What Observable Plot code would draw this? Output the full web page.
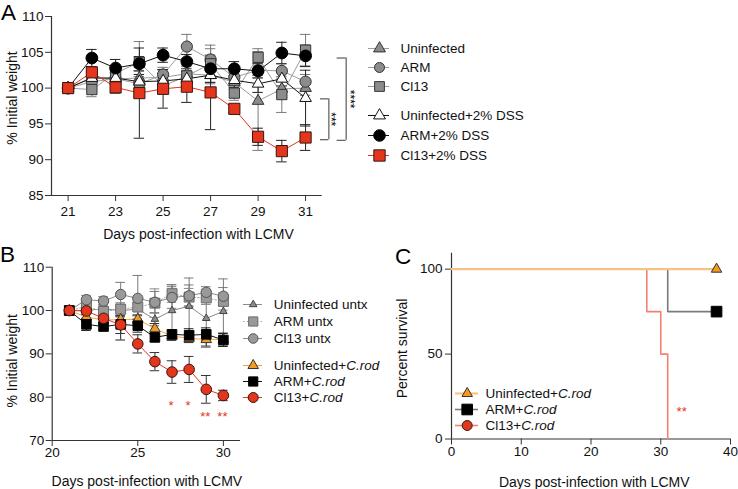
<!DOCTYPE html>
<html><head><meta charset="utf-8">
<script src="https://cdn.jsdelivr.net/npm/d3@7"></script>
<script src="https://cdn.jsdelivr.net/npm/@observablehq/plot@0.6"></script>
<style>
body{margin:0;background:#fff;}
#wrap{position:relative;width:738px;height:489px;overflow:hidden;font-family:"Liberation Sans",Arial,sans-serif;background:#fff;}
.letter{position:absolute;font-size:22.5px;line-height:1.117;color:#000;}
</style></head>
<body><div id="wrap"></div>
<script>
// ---------------- Panel A data ----------------
const daysA = [21,22,23,24,25,26,27,28,29,30,31];
const aUninf    = [100,101.5,101.3,101.4,101.5,102.0,101.8,100.8,98.2,99.9,100.0];
const aArm      = [100,100.9,101.3,100.6,101.9,105.8,104.0,101.5,102.5,102.4,100.9];
const aCl13     = [100,99.8,102.1,103.6,100.3,101.7,103.4,99.3,104.3,99.1,105.3];
const aUninfDss = [100,101.4,101.4,100.9,101.0,101.3,101.8,101.1,100.6,101.3,98.6];
const aArmDss   = [100,104.2,102.8,103.4,104.6,103.7,102.7,102.7,102.4,104.9,104.5];
const aCl13Dss  = [100,102.2,100.1,99.3,99.9,100.2,99.4,97.1,93.2,91.2,93.1];
const aUninfErr    = [0,0.8,0.8,1.0,1.0,1.0,1.2,1.0,6.9,1.2,1.0];
const aArmErr      = [0,0.8,0.8,1.0,1.0,1.7,1.5,1.0,1.0,1.0,1.0];
const aCl13Err     = [0,1.0,1.0,2.9,1.0,1.5,2.6,1.0,1.2,2.5,2.2];
const aUninfDssErr = [0,0.8,0.8,1.0,1.0,1.0,1.0,1.0,1.2,1.0,3.9];
const aArmDssErr   = [0,1.2,1.2,1.0,1.0,1.0,1.0,1.0,1.0,1.5,1.5];
const aCl13DssErr  = [0,0.8,0.8,6.3,2.7,2.2,5.2,0.6,1.2,1.5,1.8];
const namesA = ["Uninfected","ARM","Cl13","Uninfected+2% DSS","ARM+2% DSS","Cl13+2% DSS"];
const xTicksA = [21,23,25,27,29,31];
const yTicksA = [85,90,95,100,105,110];
const bracketLabels = ["***","****"];
const bracketTop = [98.5,104.2];
const bracketBottom = [92.8,92.7];
const bracketX = [31.98,32.71];
const bracketArmX = [31.63,32.33];
const bracketTextX = [32.19,33.0];

// ---------------- Panel B data ----------------
const daysB = [21,22,23,24,25,26,27,28,29,30];
const bUninf   = [100,100.0,100.4,100.0,100.3,98.0,100.0,101.0,98.2,99.8];
const bArm     = [100,100.9,99.8,100.3,100.8,101.7,103.9,103.1,102.9,102.1];
const bCl13    = [100,102.5,102.2,103.7,102.8,101.9,103.0,103.4,104.2,103.3];
const bUninfCr = [100,98.5,97.8,97.9,98.0,95.8,94.1,93.6,93.3,93.3];
const bArmCr   = [100,96.8,96.3,96.8,96.5,93.8,94.5,94.3,94.5,93.2];
const bCl13Cr  = [100,99.9,98.2,96.7,92.3,88.2,85.8,86.4,81.8,80.4];
const bUninfErr   = [0,1.0,1.0,1.5,1.5,1.5,6.0,6.5,6.7,7.5];
const bArmErr     = [0,1.0,1.0,1.5,2.0,3.3,2.0,2.0,1.5,2.0];
const bCl13Err    = [0,1.0,1.0,2.8,5.3,2.5,2.5,2.5,1.3,2.0];
const bUninfCrErr = [0,1.0,1.0,1.0,1.0,1.2,1.0,1.0,1.5,1.5];
const bArmCrErr   = [0,1.4,0.8,3.6,1.5,1.0,1.0,1.5,1.5,1.5];
const bCl13CrErr  = [0,0.8,1.0,2.0,2.1,2.1,2.6,3.0,3.2,1.2];
const namesB = ["Uninfected untx","ARM untx","Cl13 untx","Uninfected+C.rod","ARM+C.rod","Cl13+C.rod"];
const xTicksB = [20,25,30];
const yTicksB = [70,80,90,100,110];
const sigDaysB = [27,28,29,30];
const sigLabelsB = ["*","*","**","**"];
const sigYB = [77.9,77.9,75.5,75.5];

// ---------------- Panel C data ----------------
const survUninfT = [0,38],        survUninf = [100,100];
const survArmT   = [0,31,38],     survArm   = [100,75,75];
const survCl13T  = [0,28,30,31],  survCl13  = [100,75,50,0];
const namesC = ["Uninfected+C.rod","ARM+C.rod","Cl13+C.rod"];
const xTicksC = [0,10,20,30,40];
const yTicksC = [0,50,100];
const sigTC = [33], sigSC = [15.8], sigLabelC = ["**"];

// ---------------- styles ----------------
const FONT = '"Liberation Sans", Arial, Helvetica, sans-serif';
const GRAY = "#8c8c8c", RED = "#e3361d", ORANGE = "#f39a21", AX = "#333";
const wrap = document.getElementById("wrap");
function place(el, left, top) {
  el.style.position = "absolute"; el.style.left = left + "px"; el.style.top = top + "px";
  el.style.maxWidth = "none"; wrap.appendChild(el); return el;
}
function italicize(svg) {
  svg.querySelectorAll("text").forEach(t => {
    const s = t.textContent;
    if (t.children.length === 0 && s.includes("C.rod")) {
      const i = s.indexOf("C.rod");
      t.textContent = "";
      t.appendChild(document.createTextNode(s.slice(0, i)));
      const ts = document.createElementNS("http://www.w3.org/2000/svg", "tspan");
      ts.setAttribute("font-style", "italic");
      ts.textContent = "C.rod";
      t.appendChild(ts);
      if (s.length > i + 5) t.appendChild(document.createTextNode(s.slice(i + 5)));
    }
  });
  return svg;
}
const baseStyle = {fontFamily: FONT, fontSize: "13.5px", color: "#111", background: "none", overflow: "visible"};
const rowsOf = (days, vals, errs) => days.map((d, i) => ({day: d, v: vals[i], e: errs[i]}));

function lineMarks(s, cap) {
  const rows = rowsOf(s.days, s.values, s.errs);
  const er = rows.filter(d => d.e > 0);
  return [
    Plot.ruleX(er, {x: "day", y1: d => d.v - d.e, y2: d => d.v + d.e, stroke: s.err, strokeWidth: 1}),
    Plot.ruleY(er, {y: d => d.v + d.e, x1: d => d.day - cap, x2: d => d.day + cap, stroke: s.err, strokeWidth: 1}),
    Plot.ruleY(er, {y: d => d.v - d.e, x1: d => d.day - cap, x2: d => d.day + cap, stroke: s.err, strokeWidth: 1}),
    Plot.line(rows, {x: "day", y: "v", stroke: s.line, strokeWidth: s.lw || 1, strokeDasharray: s.dash})
  ];
}
function dotMarks(s) {
  const rows = rowsOf(s.days, s.values, s.errs);
  return Plot.dot(rows, {x: "day", y: "v", symbol: s.symbol, r: s.r, fill: s.fill, stroke: s.stroke, strokeWidth: 1});
}
function legendPlot(entries, o) {
  const pad = 12, n = entries.length;
  const height = (n - 1) * o.step + 2 * pad;
  const svg = Plot.plot({
    width: o.width, height, margin: 0,
    x: {domain: [0, o.width], range: [0, o.width], axis: null},
    y: {type: "point", domain: entries.map(e => e.name), range: [pad, height - pad], padding: 0, axis: null},
    style: baseStyle,
    marks: [
      ...entries.map(e => Plot.ruleY([e], {y: "name", x1: o.lineX1, x2: o.lineX2, stroke: e.line, strokeWidth: e.lw || 1, strokeDasharray: e.dash})),
      ...entries.map(e => Plot.dot([e], {x: o.markX, y: "name", symbol: e.symbol, r: e.lr || e.r, fill: e.fill, stroke: e.stroke, strokeWidth: 1})),
      Plot.text(entries, {x: o.textX, y: "name", text: "name", textAnchor: "start", fontSize: 13.5, fill: "#111"})
    ]
  });
  italicize(svg);
  place(svg, o.left, o.firstY - pad);
}

// ---------------- Panel A ----------------
const seriesA = [
  {name: namesA[0], values: aUninf, errs: aUninfErr, symbol: "triangle", r: 4.3, lr: 4.4, fill: GRAY, stroke: "#333", line: "#9d9d9d", err: "#7a7a7a"},
  {name: namesA[1], values: aArm, errs: aArmErr, symbol: "circle", r: 5.6, lr: 5, fill: GRAY, stroke: "#333", line: "#9d9d9d", err: "#7a7a7a"},
  {name: namesA[2], values: aCl13, errs: aCl13Err, symbol: "square", r: 5.8, lr: 5.5, fill: GRAY, stroke: "#333", line: "#9d9d9d", err: "#7a7a7a"},
  {name: namesA[3], values: aUninfDss, errs: aUninfDssErr, symbol: "triangle", r: 4.3, lr: 4.4, fill: "#fff", stroke: "#111", line: "#111", err: "#222"},
  {name: namesA[4], values: aArmDss, errs: aArmDssErr, symbol: "circle", r: 5.9, lr: 5.8, fill: "#000", stroke: "#000", line: "#111", err: "#222"},
  {name: namesA[5], values: aCl13Dss, errs: aCl13DssErr, symbol: "square", r: 6.3, lr: 6.4, fill: RED, stroke: "#3a1510", line: RED, err: "#222"}
].map(s => ({...s, days: daysA}));

const brackets = bracketLabels.map((l, i) => ({label: l, top: bracketTop[i], bottom: bracketBottom[i], x: bracketX[i], arm: bracketArmX[i], tx: bracketTextX[i]}));

const plotA = Plot.plot({
  width: 370, height: 245,
  marginLeft: 51, marginRight: 48.3, marginTop: 16, marginBottom: 50,
  x: {domain: [20.3, 31.7]},
  y: {domain: [85, 110]},
  style: baseStyle,
  marks: [
    Plot.ruleX([20.3], {stroke: AX, strokeWidth: 1.2}),
    Plot.ruleY([85], {stroke: AX, strokeWidth: 1.2}),
    Plot.axisX({ticks: xTicksA, tickSize: 6, tickPadding: 5, label: null, tickFormat: d => String(d), fontSize: 13.5, stroke: AX}),
    Plot.axisY({ticks: yTicksA, tickSize: 6, tickPadding: 2, label: null, tickFormat: d => String(d), fontSize: 13.5, stroke: AX}),
    ...seriesA.flatMap(s => lineMarks(s, 0.22)),
    ...seriesA.map(s => dotMarks(s)),
    Plot.ruleX(brackets, {x: "x", y1: "top", y2: "bottom", stroke: "#666", strokeWidth: 1.3}),
    Plot.ruleY(brackets, {y: "top", x1: "arm", x2: "x", stroke: "#666", strokeWidth: 1.3}),
    Plot.ruleY(brackets, {y: "bottom", x1: "arm", x2: "x", stroke: "#666", strokeWidth: 1.3}),
    Plot.text(brackets, {x: "tx", y: d => (d.top + d.bottom) / 2, text: "label", rotate: 90, textAnchor: "middle", fontSize: 12, dx: -3, fill: "#000"}),
    Plot.text(["Days post-infection with LCMV"], {text: d => d, frameAnchor: "bottom", textAnchor: "middle", lineAnchor: "bottom", dy: 43.3, dx: 11.6, fontSize: 14, fill: "#111"}),
    Plot.text(["% Initial weight"], {text: d => d, frameAnchor: "left", textAnchor: "middle", rotate: -90, dx: -38.5, dy: -8, fontSize: 14, fill: "#111"})
  ]
});
place(plotA, 0, 0);
legendPlot(seriesA.slice(0, 3), {left: 360, firstY: 47.7, step: 19.2, width: 220, lineX1: 8, lineX2: 29, markX: 19, textX: 40});
legendPlot(seriesA.slice(3), {left: 360, firstY: 113.7, step: 20.8, width: 220, lineX1: 8, lineX2: 29, markX: 19, textX: 40});

// ---------------- Panel B ----------------
const seriesB = [
  {name: namesB[0], values: bUninf, errs: bUninfErr, symbol: "triangle", r: 2.8, lr: 2.8, fill: GRAY, stroke: "#444", line: "#8a8a8a", err: "#7a7a7a"},
  {name: namesB[1], values: bArm, errs: bArmErr, symbol: "square", r: 5.6, lr: 5.2, fill: "#999", stroke: "#6a6a6a", line: "#aaa", dash: "1.5,2", err: "#8a8a8a"},
  {name: namesB[2], values: bCl13, errs: bCl13Err, symbol: "circle", r: 5.2, lr: 4.8, fill: "#999", stroke: "#555", line: "#8a8a8a", err: "#7a7a7a"},
  {name: namesB[3], values: bUninfCr, errs: bUninfCrErr, symbol: "triangle", r: 3.9, lr: 3.9, fill: ORANGE, stroke: "#333", line: "#f5a43a", err: "#333"},
  {name: namesB[4], values: bArmCr, errs: bArmCrErr, symbol: "square", r: 5.4, lr: 5.2, fill: "#000", stroke: "#000", line: "#111", err: "#222"},
  {name: namesB[5], values: bCl13Cr, errs: bCl13CrErr, symbol: "circle", r: 5.3, lr: 5, fill: RED, stroke: "#3a1510", line: RED, err: "#333"}
].map(s => ({...s, days: daysB}));
const sigB = sigDaysB.map((d, i) => ({day: d, y: sigYB[i], label: sigLabelsB[i]}));

const plotB = Plot.plot({
  width: 370, height: 249,
  marginLeft: 51.7, marginRight: 130, marginTop: 26.7, marginBottom: 49,
  x: {domain: [20, 31]},
  y: {domain: [70, 110]},
  style: baseStyle,
  marks: [
    Plot.ruleX([20], {stroke: AX, strokeWidth: 1.2}),
    Plot.ruleY([70], {stroke: AX, strokeWidth: 1.2}),
    Plot.axisX({ticks: xTicksB, tickSize: 6, tickPadding: 1, label: null, tickFormat: d => String(d), fontSize: 13.5, stroke: AX}),
    Plot.axisY({ticks: yTicksB, tickSize: 6, tickPadding: 2, label: null, tickFormat: d => String(d), fontSize: 13.5, stroke: AX}),
    ...seriesB.flatMap(s => lineMarks(s, 0.28)),
    ...seriesB.map(s => dotMarks(s)),
    Plot.text(sigB, {x: "day", y: "y", text: "label", fill: RED, fontSize: 13, dx: -1}),
    Plot.text(["Days post-infection with LCMV"], {text: d => d, frameAnchor: "bottom", textAnchor: "middle", lineAnchor: "bottom", dy: 45, dx: 0.5, fontSize: 14, fill: "#111"}),
    Plot.text(["% Initial weight"], {text: d => d, frameAnchor: "left", textAnchor: "middle", rotate: -90, dx: -39.5, dy: 7, fontSize: 14, fill: "#111"})
  ]
});
place(plotB, 0, 240);
legendPlot(seriesB.slice(0, 3), {left: 230, firstY: 304, step: 17.2, width: 200, lineX1: 13, lineX2: 32, markX: 22.7, textX: 43.3});
legendPlot(seriesB.slice(3), {left: 230, firstY: 365, step: 16.2, width: 200, lineX1: 13, lineX2: 32, markX: 22.7, textX: 43.3});

// ---------------- Panel C ----------------
const survRows = (T, S) => T.map((t, i) => ({t, s: S[i]}));
const seriesC = [
  {name: namesC[0], T: survUninfT, S: survUninf, symbol: "triangle", r: 3.9, fill: ORANGE, stroke: "#333", line: "#f7c383", lw: 2.2, endMark: true},
  {name: namesC[1], T: survArmT, S: survArm, symbol: "square", r: 6, fill: "#000", stroke: "#000", line: "#7a7a7a", lw: 1.6, endMark: true},
  {name: namesC[2], T: survCl13T, S: survCl13, symbol: "circle", r: 5, fill: RED, stroke: "#3a1510", line: "#f2826f", lw: 1.6, endMark: false}
];
const sigC = sigTC.map((t, i) => ({t, s: sigSC[i], label: sigLabelC[i]}));
const plotC = Plot.plot({
  width: 368, height: 249,
  marginLeft: 81, marginRight: 8, marginTop: 12.7, marginBottom: 50.5,
  x: {domain: [0, 40]},
  y: {domain: [0, 109.4]},
  style: baseStyle,
  marks: [
    Plot.ruleX([0], {stroke: AX, strokeWidth: 1.2}),
    Plot.ruleY([0], {stroke: AX, strokeWidth: 1.2}),
    Plot.axisX({ticks: xTicksC, tickSize: 6, tickPadding: 1, label: null, tickFormat: d => String(d), fontSize: 13.5, stroke: AX}),
    Plot.axisY({ticks: yTicksC, tickSize: 6, tickPadding: 3, label: null, tickFormat: d => String(d), fontSize: 13.5, stroke: AX}),
    ...[seriesC[2], seriesC[1], seriesC[0]].map(s => Plot.line(survRows(s.T, s.S), {x: "t", y: "s", curve: "step-after", stroke: s.line, strokeWidth: s.lw})),
    ...seriesC.filter(s => s.endMark).map(s => Plot.dot(survRows(s.T, s.S).slice(-1), {x: "t", y: "s", symbol: s.symbol, r: s.r, fill: s.fill, stroke: s.stroke, strokeWidth: 1})),
    Plot.text(sigC, {x: "t", y: "s", text: "label", fill: RED, fontSize: 13}),
    Plot.text(["Days post-infection with LCMV"], {text: d => d, frameAnchor: "bottom", textAnchor: "middle", lineAnchor: "bottom", dy: 47.5, dx: 3.2, fontSize: 14, fill: "#111"}),
    Plot.text(["Percent survival"], {text: d => d, frameAnchor: "left", textAnchor: "middle", rotate: -90, dx: -49, dy: 2.4, fontSize: 14, fill: "#111"})
  ]
});
place(plotC, 370, 240);
legendPlot(seriesC, {left: 440, firstY: 392, step: 16.5, width: 200, lineX1: 15, lineX2: 38, markX: 26.7, textX: 45});

// ---------------- Panel letters ----------------
[["A", 1, 0], ["B", 0, 241.5], ["C", 395, 243.8]].forEach(([t, x, y]) => {
  const d = document.createElement("div");
  d.className = "letter"; d.textContent = t; d.style.left = x + "px"; d.style.top = y + "px";
  wrap.appendChild(d);
});
</script></body></html>
